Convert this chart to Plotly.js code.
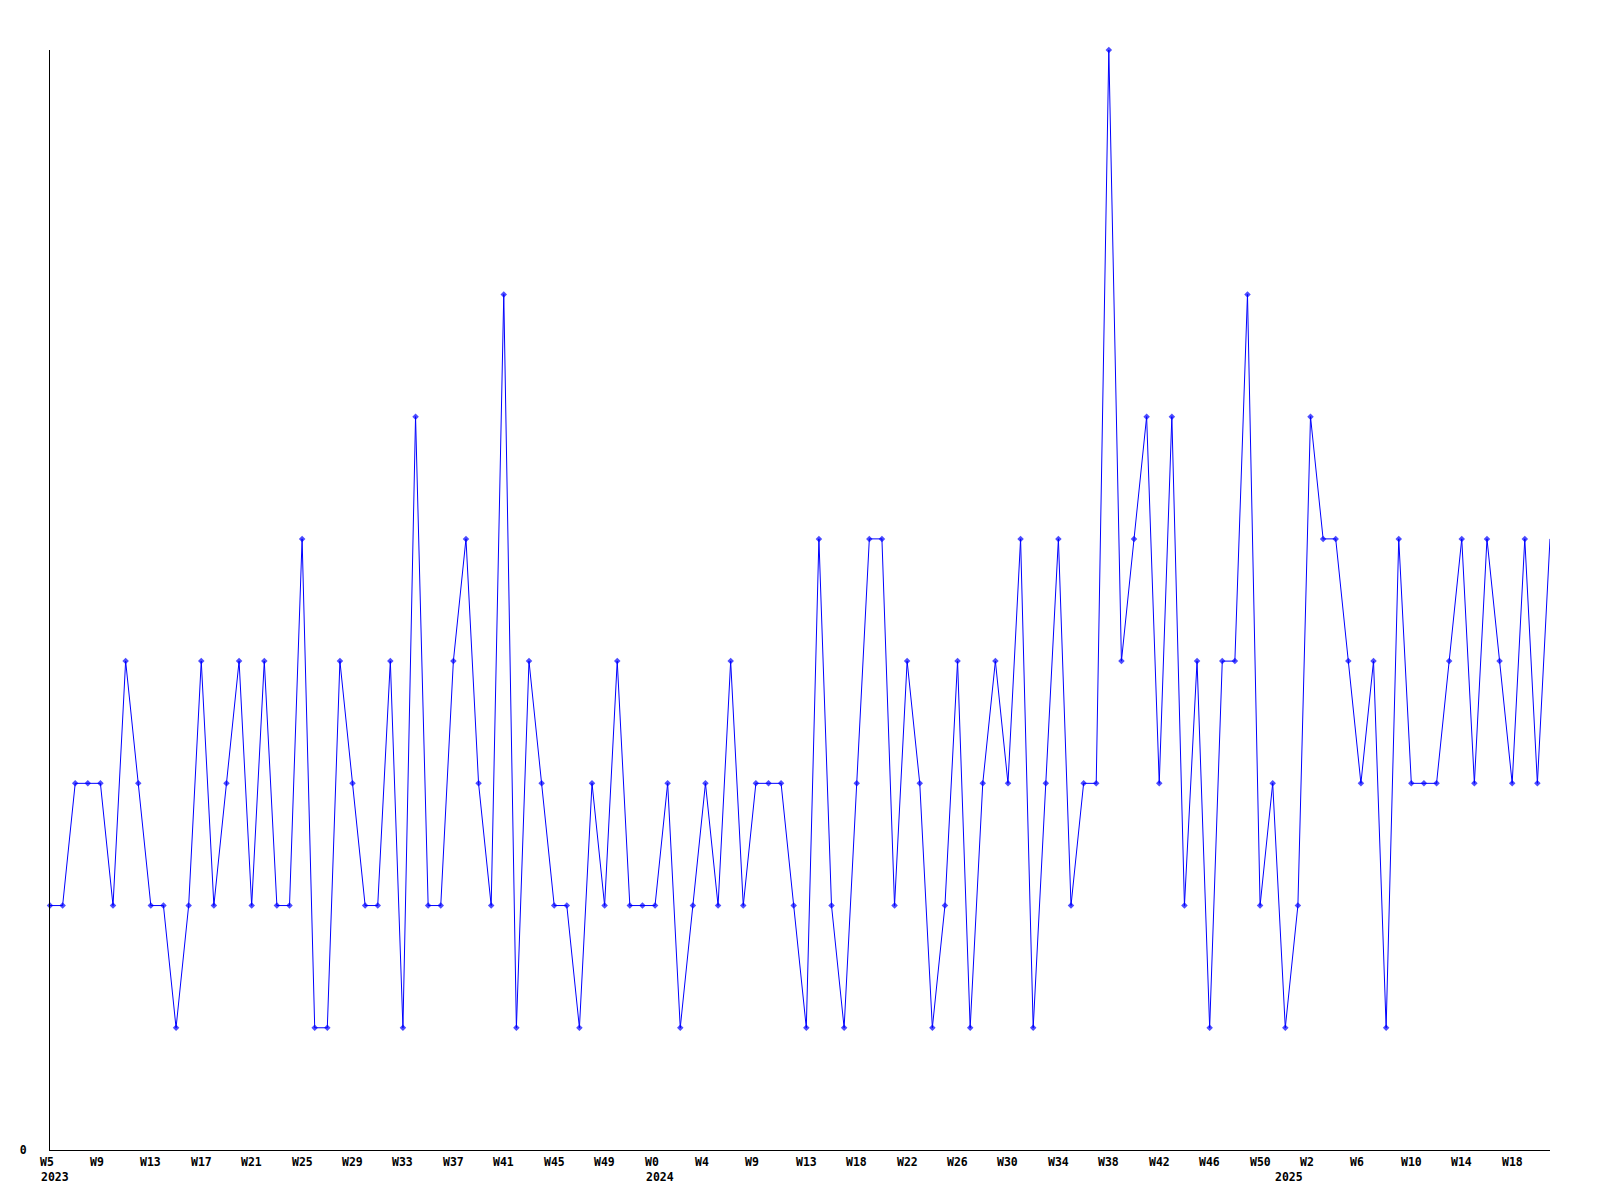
<!DOCTYPE html>
<html>
<head>
<meta charset="utf-8">
<script src="https://cdn.plot.ly/plotly-3.0.1.min.js"></script>
<style>
  html, body { margin: 0; padding: 0; background: #ffffff; }
  #chart { width: 1600px; height: 1200px; }
</style>
</head>
<body>
<div id="chart"></div>
<script>
// Weekly values, 2023-W5 .. 2025-W20 (120 weeks)
const values = [
  2,2,3,3,3,2,4,3,2,2,
  1,2,4,2,3,4,2,4,2,2,
  5,1,1,4,3,2,2,4,1,6,
  2,2,4,5,3,2,7,1,4,3,
  2,2,1,3,2,4,2,2,2,3,
  1,2,3,2,4,2,3,3,3,2,
  1,5,2,1,3,5,5,2,4,3,
  1,2,4,1,3,4,3,5,1,3,
  5,2,3,3,9,4,5,6,3,6,
  2,4,1,4,4,7,2,3,1,2,
  6,5,5,4,3,4,1,5,3,3,
  3,4,5,3,5,4,3,5,3,5
];

// X tick labels (one every 4th week) and the year labels
const weekLabels = ['W5','W9','W13','W17','W21','W25','W29','W33','W37','W41','W45','W49',
                    'W0','W4','W9','W13','W18','W22','W26','W30','W34','W38','W42','W46','W50',
                    'W2','W6','W10','W14','W18'];
const yearLabels = ['2023','2024','2025'];

// Layout constants
const tickEvery = 4;                         // a week label on every 4th point
const yearLabelPos = [-0.83, 47.17, 97.12];  // left edge of year text, in point-index units

const nPts = values.length;
const xIdx = values.map((v, i) => i);
const lastIdx = nPts - 1;
const toPaper = p => p / lastIdx;

const font = { family: '"DejaVu Sans Mono", "Liberation Mono", monospace', size: 11.5, color: '#000000', weight: 'bold' };

const annotations = [];
weekLabels.forEach((t, k) => {
  annotations.push({
    text: '<b>' + t + '</b>', xref: 'paper', yref: 'paper',
    x: toPaper(k * tickEvery), y: 0, xanchor: 'center', yanchor: 'top',
    xshift: -(3 - t.length) * 3.5,
    yshift: -4, showarrow: false, font: font, borderpad: 0
  });
});
yearLabels.forEach((t, k) => {
  annotations.push({
    text: '<b>' + t + '</b>', xref: 'paper', yref: 'paper',
    x: toPaper(yearLabelPos[k]), y: 0, xanchor: 'left', yanchor: 'top',
    yshift: -19, showarrow: false, font: font, borderpad: 0
  });
});

const trace = {
  x: xIdx,
  y: values,
  type: 'scatter',
  mode: 'lines+markers',
  line: { color: '#0000ff', width: 1 },
  marker: {
    color: '#0000ff',
    symbol: 'diamond',
    size: values.map((v, i) => i === lastIdx ? 0 : 5),
    line: { width: 0 }
  },
  cliponaxis: false,
  hoverinfo: 'x+y'
};

const layout = {
  width: 1600,
  height: 1200,
  margin: { l: 50, r: 50, t: 50, b: 50, pad: 0 },
  paper_bgcolor: '#ffffff',
  plot_bgcolor: '#ffffff',
  showlegend: false,
  font: font,
  xaxis: {
    range: [0, lastIdx],
    showgrid: false, zeroline: false,
    showline: true, linecolor: '#000000', linewidth: 1,
    showticklabels: false, ticks: '',
    fixedrange: true
  },
  yaxis: {
    range: [0, 9],
    showgrid: false, zeroline: false,
    showline: true, linecolor: '#000000', linewidth: 1,
    tickmode: 'array', tickvals: [0], ticktext: ['<b>0</b>'],
    ticks: '', ticklabelstandoff: 20,
    tickfont: font,
    fixedrange: true
  },
  annotations: annotations
};

Plotly.newPlot('chart', [trace], layout, { displayModeBar: false, staticPlot: true });
</script>
</body>
</html>
